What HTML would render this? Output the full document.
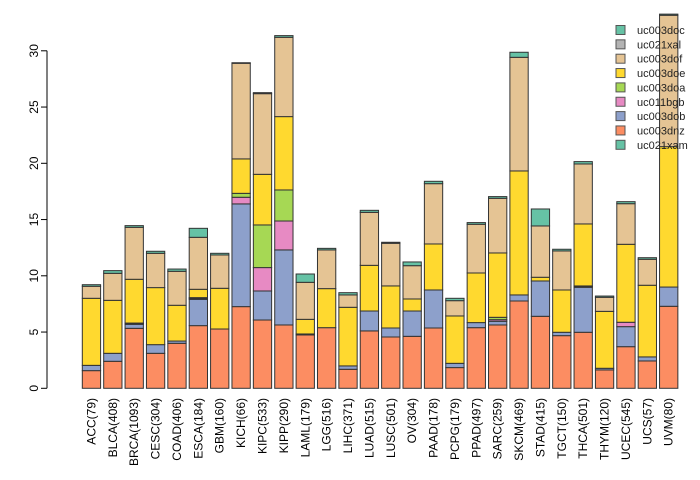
<!DOCTYPE html>
<html><head><meta charset="utf-8"><style>
body{margin:0;background:#fff;}
svg{display:block;font-family:"Liberation Sans",sans-serif;}
</style></head><body>
<svg id="chart" width="700" height="480"></svg>
<script>
const categories=["ACC(79)","BLCA(408)","BRCA(1093)","CESC(304)","COAD(406)","ESCA(184)","GBM(160)","KICH(66)","KIPC(533)","KIPP(290)","LAML(179)","LGG(516)","LIHC(371)","LUAD(515)","LUSC(501)","OV(304)","PAAD(178)","PCPG(179)","PPAD(497)","SARC(259)","SKCM(469)","STAD(415)","TGCT(150)","THCA(501)","THYM(120)","UCEC(545)","UCS(57)","UVM(80)"];
const seriesNames=["uc021xam","uc003dnz","uc003dob","uc011bgb","uc003doa","uc003doe","uc003dof","uc021xal","uc003doc"];
const seriesColors=["#66C2A5","#FC8D62","#8DA0CB","#E78AC3","#A6D854","#FFD92F","#E5C494","#B3B3B3","#66C2A5"];
const uc021xam=[0,0,0,0,0,0,0,0,0,0,0,0,0,0,0,0,0,0,0,0,0,0,0,0,0,0,0,0];
const uc003dnz=[1.57,2.4,5.33,3.11,4.0,5.57,5.27,7.26,6.07,5.63,4.74,5.39,1.69,5.1,4.56,4.62,5.36,1.84,5.39,5.63,7.76,6.4,4.68,4.98,1.63,3.7,2.43,7.29];
const uc003dob=[0.47,0.71,0.36,0.77,0.2,2.34,0,9.13,2.58,6.67,0.09,0,0.3,1.77,0.8,2.25,3.38,0.38,0.45,0.33,0.54,3.14,0.3,4.0,0.15,1.78,0.36,1.71];
const uc011bgb=[0,0,0.05,0,0,0.07,0,0.59,2.08,2.57,0,0,0,0,0,0,0,0,0,0.14,0,0,0,0.06,0,0.39,0,0];
const uc003doa=[0,0,0.06,0,0,0.08,0,0.35,3.79,2.76,0,0,0,0,0,0,0,0,0,0.21,0,0,0,0.06,0,0,0,0];
const uc003doe=[5.96,4.71,3.89,5.07,3.18,0.74,3.62,3.06,4.5,6.52,1.3,3.47,5.21,4.06,3.74,1.07,4.09,4.21,4.41,5.72,11.02,0.33,3.76,5.51,5.06,6.93,6.37,12.48];
const uc003dof=[1.07,2.4,4.62,3.05,3.02,4.62,2.96,8.5,7.17,7.05,3.29,3.44,1.1,4.71,3.79,2.96,5.36,1.36,4.33,4.86,10.1,4.56,3.47,5.33,1.25,3.61,2.31,11.68];
const uc021xal=[0,0,0,0,0,0,0,0,0.09,0,0,0,0,0,0,0,0,0,0,0,0,0,0,0,0,0,0,0];
const uc003doc=[0.14,0.24,0.15,0.18,0.2,0.8,0.15,0.05,0,0.15,0.74,0.14,0.2,0.18,0.09,0.33,0.21,0.21,0.15,0.15,0.45,1.51,0.15,0.21,0.11,0.18,0.14,0.1];
const yTicks=[0,5,10,15,20,25,30];
const seriesData=[uc021xam,uc003dnz,uc003dob,uc011bgb,uc003doa,uc003doe,uc003dof,uc021xal,uc003doc];

const NS="http://www.w3.org/2000/svg";
const svg=document.getElementById("chart");
const y0=388.3, pxPerUnit=11.25, x0=82.3, pitch=21.38, bw=18.3;
function yScale(v){return y0-v*pxPerUnit;}
function xScale(i){return x0+i*pitch;}
function mk(tag,attrs,parent){const e=document.createElementNS(NS,tag);for(const k in attrs)e.setAttribute(k,attrs[k]);(parent||svg).appendChild(e);return e;}

// y axis
const yAxis=mk("g",{});


mk("line",{x1:47,x2:47,y1:yScale(0),y2:yScale(30),stroke:"#000"},yAxis);
yTicks.forEach(t=>{
  const y=yScale(t);
  mk("line",{x1:41,x2:47,y1:y,y2:y,stroke:"#000"},yAxis);
  const tx=mk("text",{x:0,y:0,transform:`translate(38,${y}) rotate(-90)`,"text-anchor":"middle","font-size":"12"},yAxis);
  tx.textContent=t;
  
  
});

// bars
categories.forEach((c,i)=>{
  const g=mk("g",{});
  
  
  let cum=0;
  seriesData.forEach((arr,s)=>{
    const v=arr[i];
    if(v<=0){return;}
    const yt=yScale(cum+v), yb=yScale(cum);
    const r=mk("rect",{x:xScale(i),y:yt,width:bw,height:yb-yt,fill:seriesColors[s],stroke:"#333","stroke-width":"1"},g);
    
    
    cum+=v;
  });
  const cx=xScale(i)+bw/2;
  const t=mk("text",{x:0,y:0,transform:`translate(${cx+4},398) rotate(-90)`,"text-anchor":"end","font-size":"12"});
  t.textContent=c;
  
  
});

// legend
const legend=mk("g",{});


for(let k=0;k<seriesNames.length;k++){
  const s=seriesNames.length-1-k;
  const y=30+k*14.35;
  const e=mk("g",{},legend);
  
  
  mk("rect",{x:616,y:y-4.5,width:9,height:9,fill:seriesColors[s],stroke:"#555","stroke-width":"1"},e);
  const t=mk("text",{x:637,y:y+4,"font-size":"11",fill:"#222"},e);
  t.textContent=seriesNames[s];
}
</script>
</body></html>
